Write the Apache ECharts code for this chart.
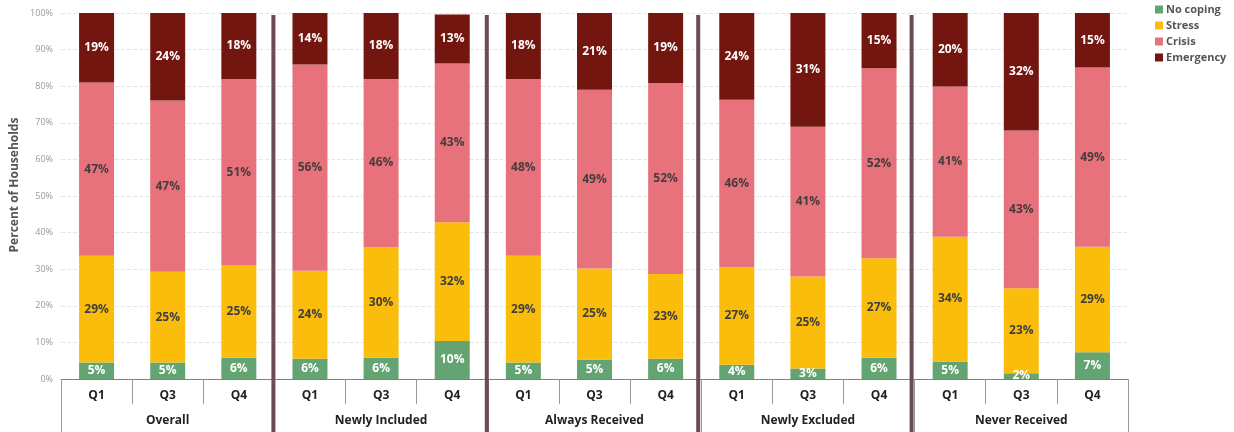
<!DOCTYPE html>
<html>
<head>
<meta charset="utf-8">
<script src="https://cdn.jsdelivr.net/npm/echarts@6/dist/echarts.min.js"></script>
<style>
  html, body { margin: 0; padding: 0; background: #fff; }
  #chart { width: 1234px; height: 432px; }
</style>
</head>
<body>
<div id="chart"></div>
<script>
// Survey rounds shown for each household group
const rounds = ['Q1', 'Q3', 'Q4', 'Q1', 'Q3', 'Q4', 'Q1', 'Q3', 'Q4', 'Q1', 'Q3', 'Q4', 'Q1', 'Q3', 'Q4'];
const groups = ['Overall', 'Newly Included', 'Always Received', 'Newly Excluded', 'Never Received'];

// Share of households (%) by coping strategy level, one value per group/round
const noCoping  = [4.5, 4.5, 5.8,   5.5, 5.8, 10.4,  4.5, 5.3, 5.5,   3.9, 2.9, 5.8,   4.8, 1.6, 7.3];
const stress    = [29.2, 24.8, 25.2, 24.1, 30.2, 32.4, 29.2, 24.9, 23.2, 26.7, 25.1, 27.2, 34.1, 23.2, 28.8];
const crisis    = [47.3, 46.8, 51.0, 56.3, 46.0, 43.4, 48.3, 48.8, 52.2, 45.7, 40.9, 51.9, 41.0, 43.1, 49.0];
const emergency = [19.0, 23.9, 18.0, 14.1, 18.0, 13.4, 18.0, 21.0, 19.1, 23.7, 31.1, 15.1, 20.1, 32.1, 14.9];

const yTicks = [0, 10, 20, 30, 40, 50, 60, 70, 80, 90, 100];

const FONT = '"Open Sans", "Noto Sans", sans-serif';
const COLORS = {
  noCoping: '#64a473',
  stress: '#fbbd0b',
  crisis: '#e8727c',
  emergency: '#741610'
};

function makeSeries(name, values, color, labelColor) {
  return {
    name: name,
    type: 'bar',
    stack: 'total',
    xAxisIndex: 0,
    barWidth: 35,
    data: values,
    itemStyle: { color: color },
    label: {
      show: true,
      position: 'inside',
      formatter: p => Math.round(p.value) + '%',
      color: labelColor,
      fontFamily: FONT,
      fontWeight: 'bold',
      fontSize: 12
    },
    emphasis: { disabled: true }
  };
}

const chart = echarts.init(document.getElementById('chart'), null, { renderer: 'canvas' });

const option = {
  animation: false,
  backgroundColor: '#fff',
  textStyle: { fontFamily: FONT },
  grid: { left: 61, right: 106, top: 13, bottom: 53, containLabel: false },
  legend: {
    orient: 'vertical',
    left: 1155,
    top: 3,
    itemWidth: 8,
    itemHeight: 8,
    itemGap: 3,
    icon: 'rect',
    padding: 0,
    textStyle: { fontFamily: FONT, fontWeight: 'bold', fontSize: 11, lineHeight: 13, color: '#555', padding: [0, 0, 0, -2] },
    data: ['No coping', 'Stress', 'Crisis', 'Emergency']
  },
  xAxis: [
    {
      type: 'category',
      data: rounds,
      position: 'bottom',
      axisLine: { show: true, lineStyle: { color: '#808080', width: 1 } },
      axisTick: { show: true, interval: 0, length: 25, lineStyle: { color: '#9a9a9a' } },
      axisLabel: { interval: 0, margin: 11, fontFamily: FONT, fontWeight: 'bold', fontSize: 12, color: '#222' },
      splitLine: { show: false }
    },
    {
      type: 'category',
      data: groups,
      position: 'bottom',
      axisLine: { show: false },
      axisTick: { show: true, interval: 0, length: 53, lineStyle: { color: '#9a9a9a' } },
      axisLabel: { interval: 0, margin: 36, fontFamily: FONT, fontWeight: 'bold', fontSize: 12, color: '#222' },
      splitLine: { show: false }
    }
  ],
  yAxis: {
    type: 'value',
    min: yTicks[0],
    max: yTicks[yTicks.length - 1],
    interval: yTicks[1] - yTicks[0],
    axisLine: { show: false },
    axisTick: { show: false },
    axisLabel: { formatter: '{value}%', fontFamily: FONT, fontSize: 9, color: '#999', margin: 8 },
    splitLine: { show: true, lineStyle: { color: '#e6e6e6', type: 'dashed', width: 1 } }
  },
  series: [
    makeSeries('No coping', noCoping, COLORS.noCoping, '#ffffff'),
    makeSeries('Stress', stress, COLORS.stress, '#3f3f3f'),
    makeSeries('Crisis', crisis, COLORS.crisis, '#463c3c'),
    makeSeries('Emergency', emergency, COLORS.emergency, '#ffffff')
  ]
};

chart.setOption(option);

// Axis title and the dividers between household groups
function drawOverlays() {
  const h = chart.getHeight();
  const top = chart.convertToPixel({ yAxisIndex: 0 }, yTicks[yTicks.length - 1]);
  const bottom = chart.convertToPixel({ yAxisIndex: 0 }, yTicks[0]);
  const elements = [];
  for (let g = 1; g < groups.length; g++) {
    const a = chart.convertToPixel({ xAxisIndex: 0 }, g * 3 - 1);
    const b = chart.convertToPixel({ xAxisIndex: 0 }, g * 3);
    const x = (a + b) / 2 - 1 - (g > 2 ? 2 : 0);
    elements.push({
      type: 'line',
      z: 100,
      shape: { x1: x, y1: top + 2, x2: x, y2: h },
      style: { stroke: '#6d4a56', lineWidth: 4 }
    });
  }
  elements.push({
    type: 'text',
    z: 100,
    x: 15,
    y: (top + bottom) / 2 - 11,
    rotation: Math.PI / 2,
    style: {
      text: 'Percent of Households',
      fill: '#555',
      font: 'bold 12px ' + FONT,
      align: 'center',
      verticalAlign: 'middle'
    }
  });
  chart.setOption({ graphic: { elements: elements } });
}
drawOverlays();
</script>
</body>
</html>
